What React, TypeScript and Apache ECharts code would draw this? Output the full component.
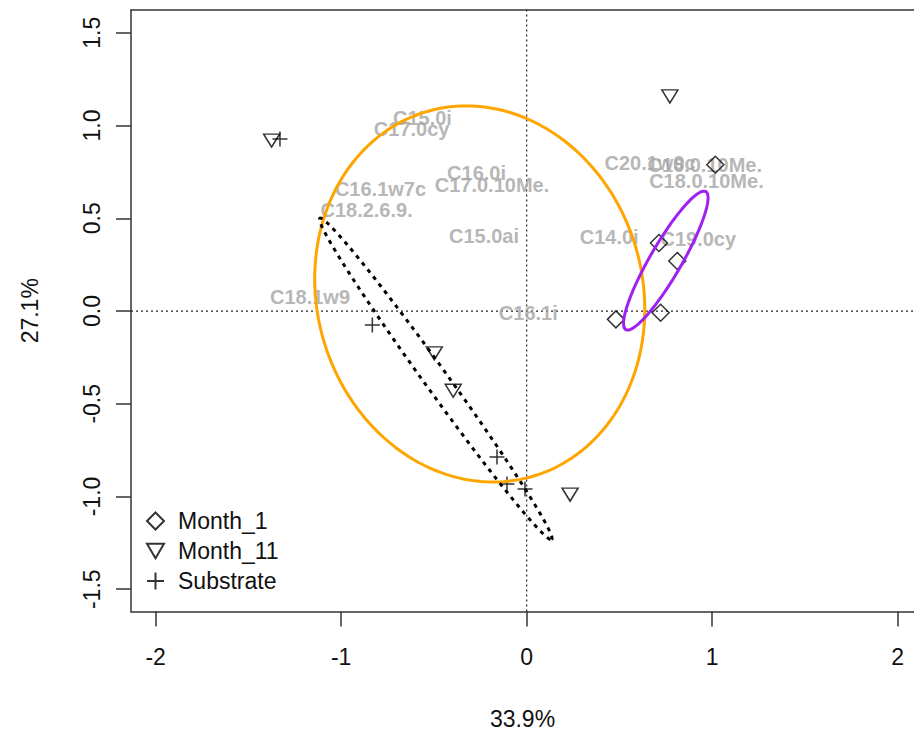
import React, { useEffect, useRef } from "react";
import * as echarts from "echarts";

// Sample scores (PC1, PC2)
const month1: number[][] = [
  [1.017, 0.789],
  [0.713, 0.367],
  [0.812, 0.27],
  [0.722, -0.009],
  [0.481, -0.045],
];
const month11: number[][] = [
  [0.772, 1.157],
  [-1.375, 0.919],
  [-0.498, -0.228],
  [-0.396, -0.43],
  [0.234, -0.99],
];
const substrate: number[][] = [
  [-1.33, 0.927],
  [-0.832, -0.075],
  [-0.16, -0.787],
  [-0.106, -0.933],
  [-0.009, -0.96],
];

// Variable (fatty acid) labels
const varNames = [
  "C15.0i", "C17.0cy", "C16.0i", "C17.0.10Me.", "C16.1w7c", "C18.2.6.9.",
  "C15.0ai", "C18.1w9", "C16.1i", "C14.0i", "C19.0cy", "C20.1w9c",
  "C16.0.10Me.", "C18.0.10Me.",
];
const varX = [-0.562, -0.62, -0.27, -0.187, -0.788, -0.863, -0.23, -1.168, 0.009, 0.445, 0.925, 0.665, 0.96, 0.969];
const varY = [1.039, 0.98, 0.746, 0.679, 0.656, 0.544, 0.404, 0.077, -0.009, 0.397, 0.387, 0.798, 0.787, 0.7];

// Group ellipses: centre, semi-axes, rotation (deg)
const ellipseGroups = ["Month_11", "Month_1", "Substrate"];
const ellipseCx = [-0.253, 0.75, -0.49];
const ellipseCy = [0.092, 0.272, -0.366];
const ellipseA = [1.024, 0.43, 1.068];
const ellipseB = [0.878, 0.085, 0.062];
const ellipseAngle = [105.8, 59.9, -54.2];
const ellipseColors = ["#FFA500", "#A020F0", "#000000"];

const xTicks = [-2, -1, 0, 1, 2];
const yTicks = [-1.5, -1, -0.5, 0, 0.5, 1, 1.5];

const X_MIN = -2.133;
const X_MAX = 2.088;
const Y_MIN = -1.62;
const Y_MAX = 1.623;

const FONT = "'Liberation Sans', Arial, Helvetica, sans-serif";

const markerStyle = {
  color: "rgba(0,0,0,0)",
  borderColor: "#000",
  borderWidth: 1.5,
};

const DIAMOND = "path://M5,0L10,5L5,10L0,5Z";
const TRIANGLE = "path://M0,0L10,0L5,8.66Z";
const PLUS = "path://M0,5L10,5M5,0L5,10";

export default function App() {
  const ref = useRef<HTMLDivElement>(null);

  useEffect(() => {
    if (!ref.current) return;
    const chart = echarts.init(ref.current, undefined, { renderer: "svg" });

    const ellipseData = ellipseGroups.map((_, i) => [
      ellipseCx[i], ellipseCy[i], ellipseA[i], ellipseB[i], ellipseAngle[i],
    ]);

    const axisLineStyle = { color: "#333", width: 1.5 };

    const option: any = {
      animation: false,
      backgroundColor: "#fff",
      grid: {
        left: 131,
        top: 10,
        right: 0,
        height: 601.5,
        show: false,
        containLabel: false,
        outerBoundsMode: "none",
      },
      xAxis: [
        {
          type: "value",
          min: X_MIN,
          max: X_MAX,
          position: "bottom",
          name: "33.9%",
          nameLocation: "middle",
          nameGap: 96,
          nameTextStyle: { fontFamily: FONT, fontSize: 23, color: "#111" },
          axisLine: { show: true, onZero: false, lineStyle: axisLineStyle },
          splitLine: { show: false },
          axisTick: {
            show: true,
            length: 15,
            lineStyle: axisLineStyle,
            customValues: xTicks,
          },
          axisLabel: {
            fontFamily: FONT,
            fontSize: 23,
            color: "#111",
            margin: 34,
            customValues: xTicks,
            formatter: (v: number) => String(v),
          },
        },
        {
          type: "value",
          min: X_MIN,
          max: X_MAX,
          position: "top",
          axisLine: { show: true, onZero: false, lineStyle: axisLineStyle },
          splitLine: { show: false },
          axisTick: { show: false },
          axisLabel: { show: false },
        },
      ],
      yAxis: {
        type: "value",
        min: Y_MIN,
        max: Y_MAX,
        name: "27.1%",
        nameLocation: "middle",
        nameGap: 90,
        nameTextStyle: { fontFamily: FONT, fontSize: 23, color: "#111" },
        axisLine: { show: true, onZero: false, lineStyle: axisLineStyle },
        splitLine: { show: false },
        axisTick: {
          show: true,
          length: 15,
          lineStyle: axisLineStyle,
          customValues: yTicks,
        },
        axisLabel: {
          fontFamily: FONT,
          fontSize: 23,
          color: "#111",
          rotate: 90,
          margin: 28,
          customValues: yTicks,
          formatter: (v: number) => v.toFixed(1),
        },
      },
      legend: {
        data: ["Month_1", "Month_11", "Substrate"],
        orient: "vertical",
        left: 141,
        top: 501,
        itemGap: 0,
        itemWidth: 17,
        itemHeight: 17,
        textStyle: {
          fontFamily: FONT,
          fontSize: 23,
          color: "#111",
          lineHeight: 30,
          padding: [0, 0, 0, 9],
        },
      },
      series: [
        {
          type: "line",
          data: [[0, Y_MIN], [0, Y_MAX]],
          symbol: "none",
          silent: true,
          lineStyle: { color: "#222", width: 1.2, type: [2, 3] },
          z: 1,
        },
        {
          type: "line",
          data: [[X_MIN, 0], [X_MAX, 0]],
          symbol: "none",
          silent: true,
          lineStyle: { color: "#222", width: 1.2, type: [2, 3] },
          z: 1,
        },
        {
          name: "Month_1",
          type: "scatter",
          data: month1,
          symbol: DIAMOND,
          symbolSize: 17,
          itemStyle: markerStyle,
          z: 4,
        },
        {
          name: "Month_11",
          type: "scatter",
          data: month11,
          symbol: TRIANGLE,
          symbolSize: [16, 13],
          itemStyle: markerStyle,
          z: 4,
        },
        {
          name: "Substrate",
          type: "scatter",
          data: substrate,
          symbol: PLUS,
          symbolSize: 15,
          itemStyle: markerStyle,
          z: 4,
        },
        {
          type: "scatter",
          data: varNames.map((n, i) => ({ name: n, value: [varX[i], varY[i]] })),
          symbolSize: 1,
          silent: true,
          itemStyle: { color: "rgba(0,0,0,0)" },
          label: {
            show: true,
            position: "inside",
            formatter: (p: any) => p.name,
            fontFamily: FONT,
            fontWeight: "bold",
            fontSize: 20,
            color: "#a3a3a3",
          },
          labelLayout: { hideOverlap: false },
          z: 3,
        },
        {
          type: "custom",
          silent: true,
          data: ellipseData,
          z: 5,
          renderItem: (params: any, api: any) => {
            const cx = api.value(0);
            const cy = api.value(1);
            const a = api.value(2);
            const b = api.value(3);
            const phi = (api.value(4) * Math.PI) / 180;
            const pts: number[][] = [];
            const n = 180;
            for (let k = 0; k < n; k++) {
              const t = (2 * Math.PI * k) / n;
              const dx = a * Math.cos(t);
              const dy = b * Math.sin(t);
              const x = cx + dx * Math.cos(phi) - dy * Math.sin(phi);
              const y = cy + dx * Math.sin(phi) + dy * Math.cos(phi);
              pts.push(api.coord([x, y]));
            }
            const i = params.dataIndex;
            const dotted = i === 2;
            return {
              type: "polygon",
              shape: { points: pts },
              style: {
                fill: "none",
                stroke: ellipseColors[i],
                lineWidth: 3,
                lineDash: dotted ? [4, 5] : null,
              },
            };
          },
        },
      ],
    };

    chart.setOption(option);
    return () => chart.dispose();
  }, []);

  return (
    <div
      ref={ref}
      style={{ position: "absolute", left: 0, top: 0, width: 914, height: 731 }}
    />
  );
}
